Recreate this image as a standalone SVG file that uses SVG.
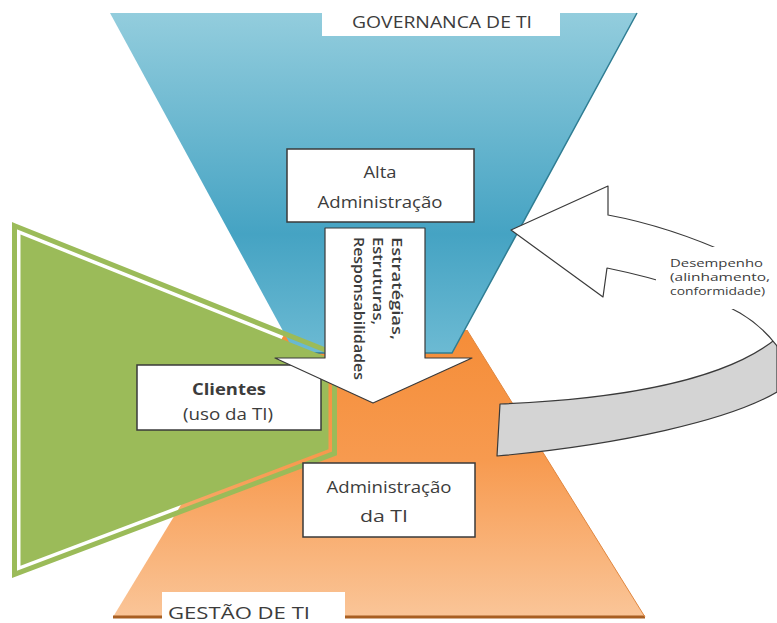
<svg xmlns="http://www.w3.org/2000/svg" width="777" height="623" viewBox="0 0 777 623">
  <defs>
    <linearGradient id="gradBlue" x1="0" y1="13" x2="0" y2="353" gradientUnits="userSpaceOnUse">
      <stop offset="0" stop-color="#93cddd"/>
      <stop offset="0.65" stop-color="#45a3c3"/>
      <stop offset="1" stop-color="#6cbad3"/>
    </linearGradient>
    <linearGradient id="gradOrange" x1="0" y1="330" x2="0" y2="617" gradientUnits="userSpaceOnUse">
      <stop offset="0" stop-color="#f58d38"/>
      <stop offset="0.45" stop-color="#f79a4f"/>
      <stop offset="1" stop-color="#fac598"/>
    </linearGradient>
    <style>
      .box { fill: #ffffff; stroke: #3a3a3a; stroke-width: 1.5; }
      .lbl { font-family: "Open Sans", "Liberation Sans", sans-serif; fill: #3c3c3c; text-anchor: middle; }
      .title { font-family: "Open Sans", "Liberation Sans", sans-serif; fill: #3c3c3c; font-size: 17px; }
      .vert { font-family: "Open Sans", "Liberation Sans", sans-serif; fill: #3c3c3c; font-size: 15px; font-weight: 600; }
      .perf { font-family: "Open Sans", "Liberation Sans", sans-serif; fill: #3c3c3c; font-size: 11.5px; }
      .shape { fill: #ffffff; stroke: #3a3a3a; stroke-width: 1.2; stroke-linejoin: round; }
    </style>
  </defs>

  <rect width="777" height="623" fill="#ffffff"/>

  <!-- IT management: lower orange trapezoid -->
  <g id="gestao">
    <polygon points="287,330 467,330 645,617 113,617" fill="url(#gradOrange)"/>
    <line x1="113" y1="617" x2="645" y2="617" stroke="#a85f22" stroke-width="3"/>
    <line x1="467" y1="330" x2="645" y2="617" stroke="#e0863e" stroke-width="1"/>
    <rect x="162" y="592" width="183" height="34" fill="#ffffff"/>
    <text class="title" x="168" y="619" textLength="142" lengthAdjust="spacingAndGlyphs">GESTÃO DE TI</text>
  </g>

  <!-- IT governance: upper blue trapezoid -->
  <g id="governanca">
    <polygon points="110,13 637,13 452,353 295,353" fill="url(#gradBlue)"/>
    <polyline points="637,13 452,353 295,353" fill="none" stroke="#2f7d93" stroke-width="1.5"/>
    <rect x="322" y="11" width="238" height="25" fill="#ffffff"/>
    <text class="title" x="352" y="28" textLength="180" lengthAdjust="spacingAndGlyphs">GOVERNANCA DE TI</text>
  </g>

  <!-- Clients: green wedge with double outline -->
  <g id="clientes">
    <polygon points="14.5,225.7 334.5,353.7 334.5,453.4 14.5,574.4" fill="none" stroke="#9bbb59" stroke-width="5" stroke-linejoin="miter"/>
    <polygon points="20.5,234.6 328.5,357.8 328.5,449.3 20.5,565.7" fill="#9bbb59"/>
    <rect class="box" x="137" y="365" width="184" height="65"/>
    <text class="lbl" x="229" y="395" font-size="16" font-weight="700" textLength="74" lengthAdjust="spacingAndGlyphs">Clientes</text>
    <text class="lbl" x="228" y="420" font-size="16" textLength="90" lengthAdjust="spacingAndGlyphs">(uso da TI)</text>
  </g>

  <!-- Top management box -->
  <g id="alta-administracao">
    <rect class="box" x="287" y="149" width="187" height="73"/>
    <text class="lbl" x="380" y="178" font-size="16" textLength="33" lengthAdjust="spacingAndGlyphs">Alta</text>
    <text class="lbl" x="380" y="208" font-size="16" textLength="125" lengthAdjust="spacingAndGlyphs">Administração</text>
  </g>

  <!-- IT administration box -->
  <g id="administracao-ti">
    <rect class="box" x="303" y="463" width="172" height="74"/>
    <text class="lbl" x="389" y="493" font-size="16" textLength="125" lengthAdjust="spacingAndGlyphs">Administração</text>
    <text class="lbl" x="384" y="522" font-size="16" textLength="48" lengthAdjust="spacingAndGlyphs">da TI</text>
  </g>

  <g id="connectors">
    <!-- downward arrow: strategies, structures, responsibilities -->
    <g id="arrow-down">
      <polygon class="shape" points="325,228 425,228 425,358 472,358 373,403 275,358 325,358"/>
      <g transform="translate(392,237) rotate(90)">
        <text class="vert" x="0" y="0" textLength="103" lengthAdjust="spacingAndGlyphs">Estratégias,</text>
      </g>
      <g transform="translate(373,237) rotate(90)">
        <text class="vert" x="0" y="0" textLength="88" lengthAdjust="spacingAndGlyphs">Estruturas,</text>
      </g>
      <g transform="translate(354,237) rotate(90)">
        <text class="vert" x="0" y="0" textLength="143" lengthAdjust="spacingAndGlyphs">Responsabilidades</text>
      </g>
    </g>

    <!-- curved feedback arrow: performance -->
    <g id="arrow-feedback">
      <path d="M500,404 C600,400 720,385 777,338 L777,392 C730,420 620,445 497,456 Z" fill="#d4d4d4" stroke="#3a3a3a" stroke-width="1.2" stroke-linejoin="round"/>
      <path class="shape" d="M511,230 L608,186 L608,215 Q700,232 800,290 L800,360 L777,346 Q762,326 740,313 Q690,285 607,268 L603,297 Z"/>
      <rect x="656" y="247" width="121" height="62" fill="#ffffff"/>
      <text class="perf" x="670" y="267" textLength="93" lengthAdjust="spacingAndGlyphs">Desempenho</text>
      <text class="perf" x="670" y="281" textLength="100" lengthAdjust="spacingAndGlyphs">(alinhamento,</text>
      <text class="perf" x="670" y="295" textLength="95" lengthAdjust="spacingAndGlyphs">conformidade)</text>
    </g>
  </g>
</svg>
